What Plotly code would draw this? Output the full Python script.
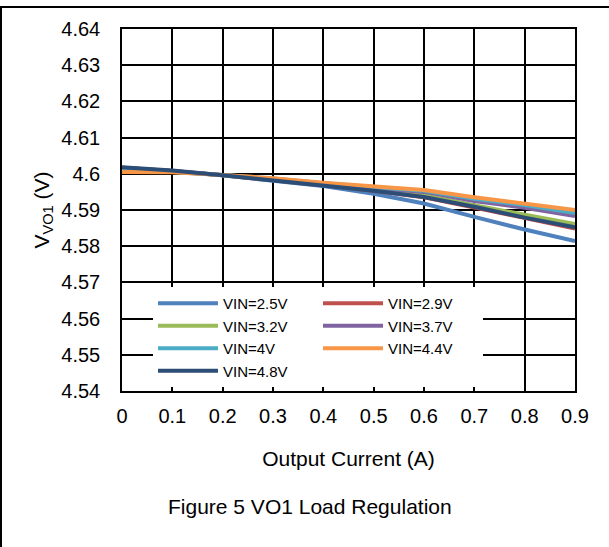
import plotly.graph_objects as go

# ---- data ----
current_a = [0.0, 0.1, 0.2, 0.3, 0.4, 0.5, 0.6, 0.7, 0.8, 0.9]
series_names = ["VIN=2.5V", "VIN=2.9V", "VIN=3.2V", "VIN=3.7V", "VIN=4V", "VIN=4.4V", "VIN=4.8V"]
vin_2p5 = [4.6017, 4.6008, 4.5996, 4.5982, 4.5966, 4.5945, 4.5918, 4.5881, 4.5846, 4.5814]
vin_2p9 = [4.6017, 4.6008, 4.5996, 4.5983, 4.5969, 4.5953, 4.5935, 4.5907, 4.5878, 4.5849]
vin_3p2 = [4.6015, 4.6007, 4.5996, 4.5984, 4.5971, 4.5957, 4.5941, 4.5913, 4.5886, 4.5861]
vin_3p7 = [4.6012, 4.6006, 4.5997, 4.5986, 4.5973, 4.5961, 4.5950, 4.5925, 4.5906, 4.5883]
vin_4p0 = [4.6008, 4.6005, 4.5997, 4.5987, 4.5974, 4.5963, 4.5953, 4.5931, 4.5914, 4.5892]
vin_4p4 = [4.6005, 4.6004, 4.5997, 4.5988, 4.5975, 4.5965, 4.5955, 4.5935, 4.5918, 4.5900]
vin_4p8 = [4.6018, 4.6009, 4.5996, 4.5982, 4.5968, 4.5953, 4.5936, 4.5909, 4.5879, 4.5852]
series_values = [vin_2p5, vin_2p9, vin_3p2, vin_3p7, vin_4p0, vin_4p4, vin_4p8]
colors = ["#4F81BD", "#C0504D", "#9BBB59", "#8064A2", "#4BACC6", "#F79646", "#2C4D75"]

x_ticks = [0, 0.1, 0.2, 0.3, 0.4, 0.5, 0.6, 0.7, 0.8, 0.9]
y_ticks = [4.54, 4.55, 4.56, 4.57, 4.58, 4.59, 4.60, 4.61, 4.62, 4.63, 4.64]

FONT = "Liberation Sans, Arial, sans-serif"
W, H = 609, 547
L, R, T, B = 122, 34, 29, 156
PW, PH = W - L - R, H - T - B


def px2paper_x(px):
    return (px - L) / PW


def px2paper_y(py):
    return (H - B - py) / PH


fig = go.Figure()
for name, vals, col in zip(series_names, series_values, colors):
    fig.add_trace(go.Scatter(x=current_a, y=vals, name=name, mode="lines",
                             line=dict(color=col, width=4)))

axis_common = dict(showline=True, linecolor="black", linewidth=1.5, mirror=True,
                   showgrid=True, gridcolor="black", gridwidth=1.5, zeroline=False,
                   ticks="", tickfont=dict(family=FONT, size=20, color="black"))

fig.update_xaxes(range=[0, 0.9], tickvals=x_ticks, ticklabelstandoff=6,
                 title=dict(text="Output Current (A)", font=dict(family=FONT, size=21, color="black"),
                            standoff=26),
                 **axis_common)
fig.update_yaxes(range=[4.54, 4.64], tickvals=y_ticks, ticklabelstandoff=16,
                 title=dict(text="V<sub>VO1</sub> (V)", font=dict(family=FONT, size=21, color="black"),
                            standoff=6),
                 **axis_common)

fig.update_layout(
    width=W, height=H,
    margin=dict(l=L, r=R, t=T, b=B, autoexpand=False),
    paper_bgcolor="white", plot_bgcolor="white",
    font=dict(family=FONT, color="black"),
    showlegend=True,
    legend=dict(orientation="h", x=px2paper_x(153), y=px2paper_y(287), xanchor="left", yanchor="top",
                bgcolor="white", borderwidth=0, font=dict(family=FONT, size=15, color="black"),
                itemwidth=60, entrywidth=90, traceorder="normal"),
    annotations=[dict(text="Figure 5 VO1 Load Regulation", x=px2paper_x(310), y=px2paper_y(506),
                      xref="paper", yref="paper", showarrow=False, xanchor="center", yanchor="middle",
                      font=dict(family=FONT, size=21, color="black"))],
    shapes=[
        # outer frame: only its top and left edges fall inside the page
        dict(type="rect", xref="paper", yref="paper", x0=px2paper_x(1), x1=px2paper_x(W + 30),
             y0=px2paper_y(7), y1=px2paper_y(H + 30), line=dict(color="black", width=2),
             fillcolor="rgba(0,0,0,0)", layer="below"),
    ],
)

fig.write_html("out.html", config={"displayModeBar": False},
               post_script="document.documentElement.style.overflow='hidden';"
                           "document.body.style.margin='0';document.body.style.overflow='hidden';")
